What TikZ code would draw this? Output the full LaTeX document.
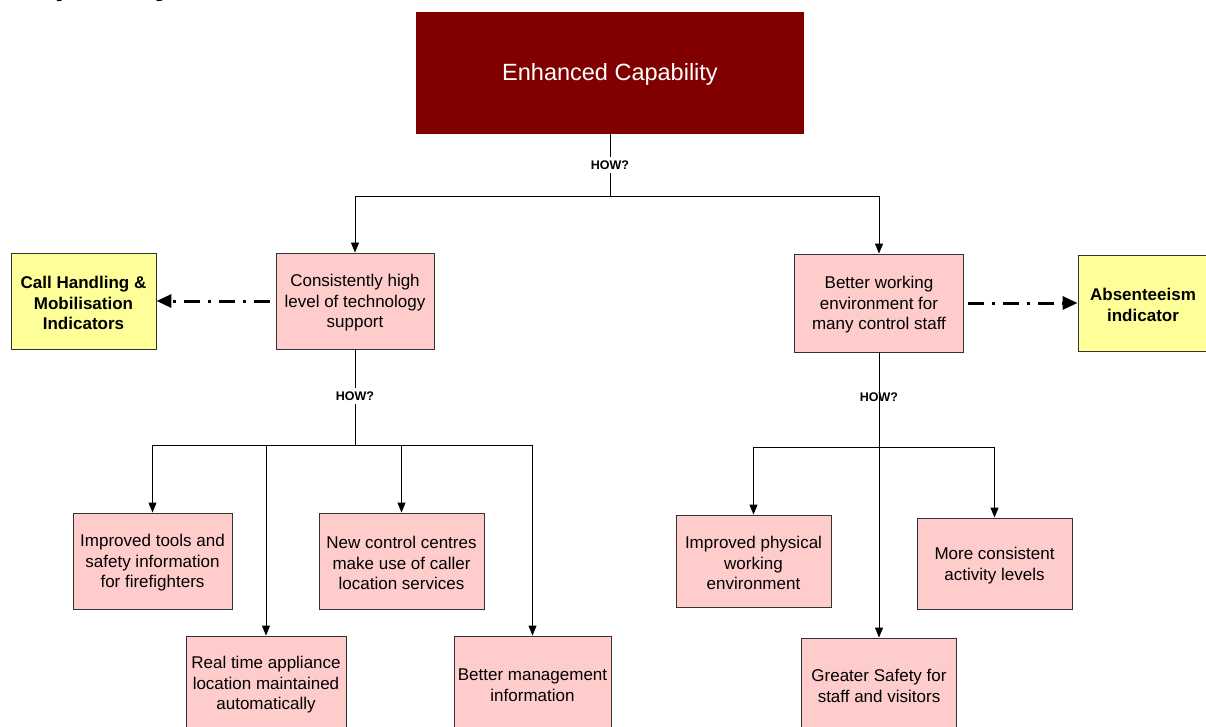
\documentclass[tikz,border=0pt]{standalone}
\usepackage{fontspec}
\setmainfont{Liberation Sans}
\usetikzlibrary{arrows.meta}
\definecolor{maroonbox}{HTML}{800000}
\definecolor{pinkbox}{HTML}{FFCCCC}
\definecolor{yellowbox}{HTML}{FFFF99}
\definecolor{edgegray}{HTML}{333333}
% gives the first line the full font ascent so the text block centres like its line boxes
\newcommand\linetop{\rule{0pt}{16.4pt}}
\tikzset{
  goalbox/.style={draw=maroonbox, fill=maroonbox, text=white, minimum width=387pt, minimum height=121pt,
    font=\fontsize{23.5}{28}\selectfont, inner sep=0pt},
  pinkstep/.style={draw=edgegray, fill=pinkbox, line width=0.9pt, align=center, inner sep=0pt,
    font=\fontsize{17}{20.5}\selectfont},
  indicator/.style={draw=edgegray, fill=yellowbox, line width=0.9pt, align=center, inner sep=0pt,
    font=\bfseries\fontsize{17}{20.5}\selectfont},
  howlabel/.style={font=\bfseries\fontsize{12.5}{14}\selectfont, inner sep=4pt},
  link/.style={line width=0.9pt, draw=black, -{Triangle[length=10pt,width=8pt]}},
  plainlink/.style={line width=0.9pt, draw=black},
  measure/.style={line width=3pt, draw=black, dash pattern=on 16pt off 8pt on 3pt off 8pt,
    -{Triangle[length=15pt,width=13pt]}},
}
\begin{document}
\begin{tikzpicture}[x=1pt,y=-1pt]
\useasboundingbox (0,0) rectangle (1206,727);
\begin{scope}
\clip (0,0) rectangle (1206,727);

% heading running above the page edge
\node[anchor=base west, inner sep=0pt, font=\bfseries\itshape\fontsize{34}{40}\selectfont] (heading) at (14,-5.5) {Capability};

% top-level goal
\node[goalbox] (goal) at (610,72.5) {\rule{0pt}{21pt}Enhanced Capability};

% second level
\node[pinkstep, minimum width=158pt, minimum height=96pt] (tech) at (355,301)
  {\linetop Consistently high\\level of technology\\support};
\node[pinkstep, minimum width=169pt, minimum height=98pt] (env) at (879,303)
  {\linetop Better working\\environment for\\many control staff};

% indicators
\node[indicator, minimum width=145pt, minimum height=96pt] (callind) at (83.5,301)
  {\linetop Call Handling \&\\Mobilisation\\Indicators};
\node[indicator, minimum width=130pt, minimum height=96pt] (absind) at (1143,303)
  {\linetop Absenteeism\\indicator};

% third level, technology branch
\node[pinkstep, minimum width=159pt, minimum height=96pt] (tools) at (152.5,561)
  {\linetop Improved tools and\\safety information\\for firefighters};
\node[pinkstep, minimum width=165pt, minimum height=96pt] (callers) at (401.5,561)
  {\linetop New control centres\\make use of caller\\location services};
\node[pinkstep, minimum width=160pt, minimum height=94pt] (avl) at (266,683)
  {\linetop Real time appliance\\location maintained\\automatically};
\node[pinkstep, minimum width=157pt, minimum height=94pt] (mis) at (532.5,683)
  {\linetop Better management\\information};

% third level, environment branch
\node[pinkstep, minimum width=155pt, minimum height=92pt] (physical) at (753.5,561)
  {\linetop Improved physical\\working\\environment};
\node[pinkstep, minimum width=155pt, minimum height=91pt] (activity) at (994.5,563.5)
  {\linetop More consistent\\activity levels};
\node[pinkstep, minimum width=155pt, minimum height=92pt] (safety) at (879,684)
  {\linetop Greater Safety for\\staff and visitors};

% junction points
\coordinate (j1) at (610,196);
\coordinate (j2) at (355,445);
\coordinate (j3) at (879,447);

% goal to second level
\draw[plainlink] (goal.south) -- (j1);
\draw[link] (j1) -| (tech.north);
\draw[link] (j1) -| (env.north);
\node[howlabel, fill=white] (how1) at (610,165) {HOW?};

% technology branch
\draw[plainlink] (tech.south) -- (j2);
\draw[link] (j2) -| (tools.north);
\draw[link] (j2) -| (avl.north);
\draw[link] (j2) -| (callers.north);
\draw[link] (j2) -| (mis.north);
\node[howlabel, fill=white] (how2) at (355,396) {HOW?};

% environment branch
\node[howlabel] (how3) at (879,397) {HOW?};
\draw[plainlink] (env.south) -- (j3);
\draw[link] (j3) -| (physical.north);
\draw[link] (j3) -- (safety.north);
\draw[link] (j3) -| (activity.north);

% measured by
\draw[measure, shorten <=6pt] (tech.west) -- (callind.east);
\draw[measure, shorten <=4pt] (env.east) -- (absind.west);
\end{scope}
\end{tikzpicture}
\end{document}
